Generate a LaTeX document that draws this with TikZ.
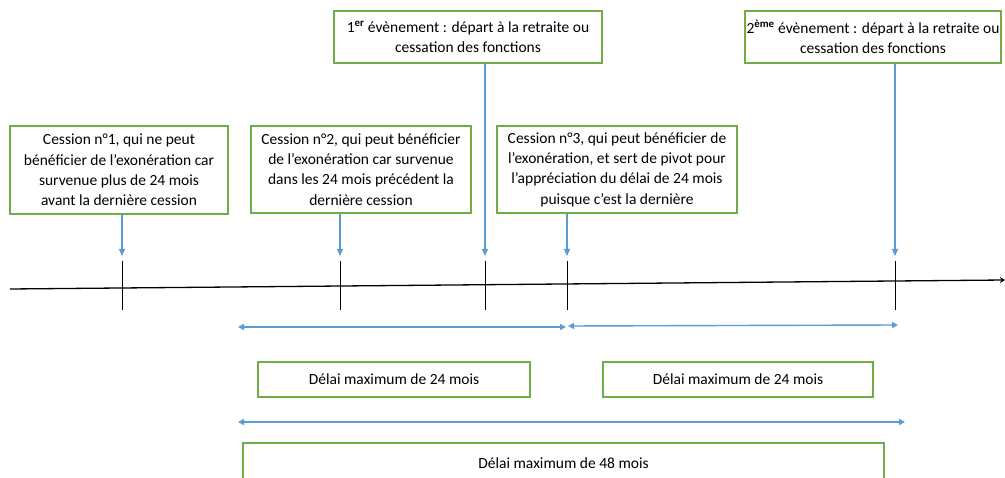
\documentclass[tikz,border=0pt]{standalone}
\usepackage{fontspec}
\setmainfont{Carlito}
\usetikzlibrary{arrows.meta}
\definecolor{boxgreen}{RGB}{112,173,71}
\definecolor{arrblue}{RGB}{91,155,213}
\begin{document}
\begin{tikzpicture}[x=1pt,y=-1pt,
  gbox/.style={draw=boxgreen,line width=1.3pt,fill=white,inner sep=0pt,align=center,
    font=\fontsize{15.5}{20.3}\selectfont},
  barrow/.style={draw=arrblue,line width=1.1pt,-{Triangle[width=6pt,length=7pt]}},
  darrow/.style={draw=arrblue,line width=1.4pt,{Triangle[width=6pt,length=6pt]}-{Triangle[width=6pt,length=6pt]}},
  tick/.style={draw=black,line width=0.9pt}]
\useasboundingbox (0,0) rectangle (1005,478);
\clip (0,0) rectangle (1005,478);
% timeline
\coordinate (tl) at (10,289);
\coordinate (tr) at (1005,280);
\draw[line width=1.3pt,-{Stealth[length=5pt,width=6pt]}] (tl) -- (tr);
% ticks
\foreach \x [count=\i] in {122,340,485,567,895}{
  \coordinate (tt\i) at (\x,261);
  \coordinate (tb\i) at (\x,310);
  \coordinate (a\i) at (\x,256);
  \draw[tick] (tt\i) -- (tb\i);
}
% boxes
\node[gbox,minimum width=218pt,minimum height=88pt] (b1) at (119,170)
  {Cession n°1, qui ne peut\\bénéficier de l’exonération car\\survenue plus de 24 mois\\avant la dernière cession};
\node[gbox,minimum width=220pt,minimum height=87pt] (b2) at (361,169.5)
  {Cession n°2, qui peut bénéficier\\de l’exonération car survenue\\dans les 24 mois précédent la\\dernière cession};
\node[gbox,minimum width=240pt,minimum height=87pt] (b3) at (617,169.5)
  {Cession n°3, qui peut bénéficier de\\l’exonération, et sert de pivot pour\\l’appréciation du délai de 24 mois\\puisque c’est la dernière};
\node[gbox,minimum width=268pt,minimum height=52pt] (e1) at (468,37)
  {1\textsuperscript{\textbf{er}} évènement : départ à la retraite ou\\cessation des fonctions};
\node[gbox,minimum width=256pt,minimum height=52pt] (e2) at (873,37)
  {2\textsuperscript{\textbf{ème}} évènement : départ à la retraite ou\\cessation des fonctions};
% arrows to ticks
\draw[barrow] (b1.south -| a1) -- (a1);
\draw[barrow] (b2.south -| a2) -- (a2);
\draw[barrow] (e1.south -| a3) -- (a3);
\draw[barrow] (b3.south -| a4) -- (a4);
\draw[barrow] (e2.south -| a5) -- (a5);
% durations
\coordinate (d1l) at (238,327);
\coordinate (d1r) at (566,327);
\coordinate (d2l) at (568,326);
\coordinate (d2r) at (898,325);
\coordinate (d3l) at (238,422);
\coordinate (d3r) at (905,422);
\draw[darrow] (d1l) -- (d1r);
\draw[darrow] (d2l) -- (d2r);
\draw[darrow] (d3l) -- (d3r);
\node[gbox,minimum width=272pt,minimum height=35pt] (m1) at (394,379.5) {Délai maximum de 24 mois};
\node[gbox,minimum width=270pt,minimum height=35pt] (m2) at (738,379.5) {Délai maximum de 24 mois};
\node[gbox,minimum width=641pt,minimum height=40pt] (m3) at (563.5,463) {Délai maximum de 48 mois};
\end{tikzpicture}
\end{document}
